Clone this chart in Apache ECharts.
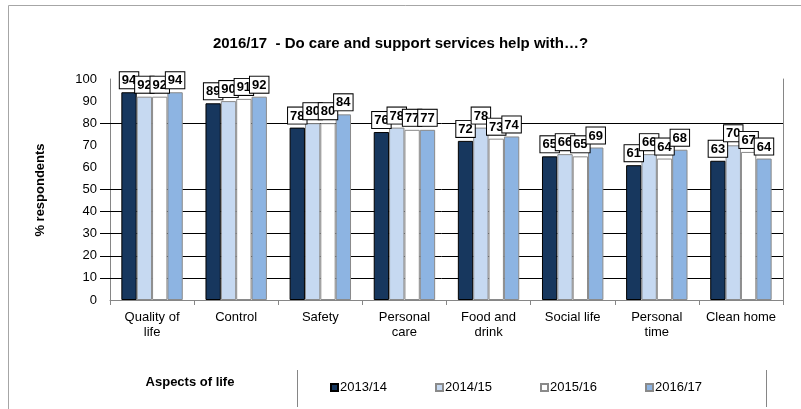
<!DOCTYPE html>
<html>
<head>
<meta charset="utf-8">
<script src="https://cdn.jsdelivr.net/npm/echarts@6/dist/echarts.min.js"></script>
<style>html,body{margin:0;padding:0;background:#fff;}#c{width:801px;height:409px;}</style>
</head>
<body>
<div id="c"></div>
<script>
const categories = ['Quality of\nlife', 'Control', 'Safety', 'Personal\ncare', 'Food and\ndrink', 'Social life', 'Personal\ntime', 'Clean home'];
const seriesNames = ['2013/14', '2014/15', '2015/16', '2016/17'];
const v2013 = [94, 89, 78, 76, 72, 65, 61, 63];
const v2014 = [92, 90, 80, 78, 78, 66, 66, 70];
const v2015 = [92, 91, 80, 77, 73, 65, 64, 67];
const v2016 = [94, 92, 84, 77, 74, 69, 68, 64];
const gridValues = [10, 20, 30, 40, 50, 80];
const yTicks = { min: 0, max: 100, interval: 10 };

const values = [v2013, v2014, v2015, v2016];
const colors = ['#17375E', '#C6D9F1', '#FFFFFF', '#8DB4E2'];
const borders = ['#000000', '#8a8a8a', '#8a8a8a', '#8a8a8a'];
const FONT = 'Liberation Sans, Arial, sans-serif';

const chart = echarts.init(document.getElementById('c'));
const series = seriesNames.map((name, i) => {
  const s = {
    name: name,
    type: 'bar',
    data: values[i],
    barGap: '0%',
    barCategoryGap: '27%',
    itemStyle: { color: colors[i], borderColor: borders[i], borderWidth: 1 },
    label: {
      show: true, position: 'top', distance: 4,
      fontFamily: FONT, fontSize: 13, fontWeight: 'bold', color: '#000',
      backgroundColor: '#fff', borderColor: '#000', borderWidth: 1,
      padding: [2, 2, 1, 2]
    },
    emphasis: { disabled: true }
  };
  if (i === 0) {
    s.markLine = {
      z: 1, silent: true, symbol: 'none',
      label: { show: false },
      lineStyle: { color: '#000', width: 1, type: 'solid' },
      data: gridValues.map(v => [{ x: 100, yAxis: v }, { x: 783, yAxis: v }])
    };
  }
  return s;
});

const legendLefts = [325, 430, 535, 640];
const legends = seriesNames.map((n, i) => ({
  left: legendLefts[i], top: 376,
  itemWidth: 7, itemHeight: 7, itemGap: 0,
  icon: 'rect',
  textStyle: { fontFamily: FONT, fontSize: 13, color: '#000', padding: [0, 0, 0, -3] },
  data: [n]
}));

chart.setOption({
  animation: false,
  title: {
    text: '2016/17  - Do care and support services help with\u2026?',
    left: 'center', top: 31,
    textStyle: { fontFamily: FONT, fontSize: 15, fontWeight: 'bold', color: '#000' }
  },
  grid: { left: 110, right: 18, top: 79, bottom: 109 },
  legend: legends,
  xAxis: {
    type: 'category', data: categories,
    axisLine: { lineStyle: { color: '#868686' } },
    axisTick: { show: true, length: 5, lineStyle: { color: '#868686' } },
    axisLabel: { fontFamily: FONT, fontSize: 13, color: '#000', margin: 10, lineHeight: 15, interval: 0 }
  },
  yAxis: [{
    type: 'value', min: yTicks.min, max: yTicks.max, interval: yTicks.interval,
    axisLine: { show: true, lineStyle: { color: '#868686' } },
    axisTick: { show: false },
    splitLine: { show: false },
    axisLabel: { fontFamily: FONT, fontSize: 13, color: '#000', margin: 13 }
  }, {
    type: 'value', min: yTicks.min, max: yTicks.max, position: 'right',
    axisLine: { show: true, lineStyle: { color: '#868686' } },
    axisTick: { show: false }, axisLabel: { show: false }, splitLine: { show: false }
  }],
  graphic: [
    { type: 'rect', shape: { x: 8.5, y: 5.5, width: 900, height: 500 }, style: { fill: 'none', stroke: '#a6a6a6', lineWidth: 1 }, silent: true },
    { type: 'text', x: 40, y: 190, rotation: Math.PI / 2, style: { text: '% respondents', font: 'bold 13px Liberation Sans, Arial, sans-serif', fill: '#000', textAlign: 'center', textVerticalAlign: 'middle' } },
    { type: 'text', x: 190, y: 382, style: { text: 'Aspects of life', font: 'bold 13px Liberation Sans, Arial, sans-serif', fill: '#000', textAlign: 'center', textVerticalAlign: 'middle' } },
    { type: 'line', shape: { x1: 297.5, y1: 370, x2: 297.5, y2: 407 }, style: { stroke: '#868686', lineWidth: 1 } },
    { type: 'line', shape: { x1: 766.5, y1: 370, x2: 766.5, y2: 407 }, style: { stroke: '#868686', lineWidth: 1 } }
  ],
  series: series
});
</script>
</body>
</html>
